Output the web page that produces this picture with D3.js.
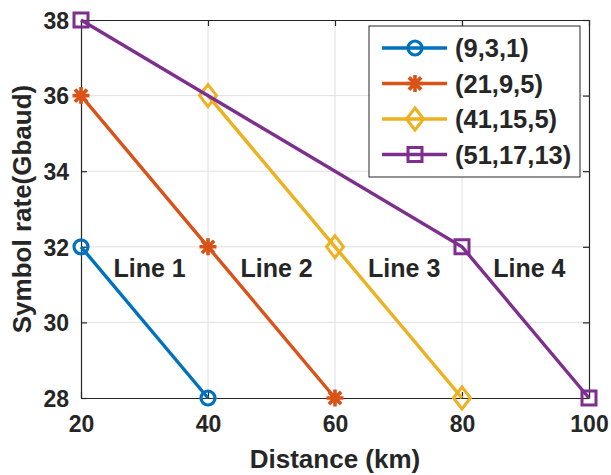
<!DOCTYPE html>
<html>
<head>
<meta charset="utf-8">
<script src="https://cdn.jsdelivr.net/npm/d3@7"></script>
<style>
  body { margin: 0; background: #fff; }
  text { font-family: "Liberation Sans", Arial, sans-serif; font-weight: bold; fill: #262626; }
</style>
</head>
<body>
<div id="chart"></div>
<script>
// data
const seriesNames = ['(9,3,1)', '(21,9,5)', '(41,15,5)', '(51,17,13)'];
const seriesColors = ['#0072BD', '#D95319', '#EDB120', '#7E2F8E'];
const seriesMarkers = ['circle', 'asterisk', 'diamond', 'square'];
const xTicks = [20, 40, 60, 80, 100];
const yTicks = [28, 30, 32, 34, 36, 38];
const line1 = [[20, 32], [40, 28]];
const line2 = [[20, 36], [40, 32], [60, 28]];
const line3 = [[40, 36], [60, 32], [80, 28]];
const line4 = [[20, 38], [80, 32], [100, 28]];
const seriesValues = [line1, line2, line3, line4];
const labelNames = ['Line 1', 'Line 2', 'Line 3', 'Line 4'];
const labelX = [30.8, 50.8, 70.9, 90.6];
const labelY = [31.45, 31.45, 31.45, 31.45];

const W = 611, H = 475;
const margin = { left: 81, right: 22, top: 20, bottom: 77 };

const svg = d3.select('#chart').append('svg')
  .attr('width', W).attr('height', H);

const x = d3.scaleLinear().domain([20, 100]).range([margin.left, W - margin.right]);
const y = d3.scaleLinear().domain([28, 38]).range([H - margin.bottom, margin.top]);

// grid
svg.append('g').selectAll('line').data(xTicks.slice(1, -1)).enter().append('line')
  .attr('x1', d => x(d)).attr('x2', d => x(d))
  .attr('y1', y.range()[0]).attr('y2', y.range()[1])
  .attr('stroke', '#e0e0e0').attr('stroke-width', 1);
svg.append('g').selectAll('line').data(yTicks.slice(1, -1)).enter().append('line')
  .attr('x1', x.range()[0]).attr('x2', x.range()[1])
  .attr('y1', d => y(d)).attr('y2', d => y(d))
  .attr('stroke', '#e0e0e0').attr('stroke-width', 1);

// axes (ticks inward, box)
function styleAxis(g) {
  g.select('.domain').attr('stroke', '#262626').attr('stroke-width', 1.2);
  g.selectAll('.tick line').attr('stroke', '#262626').attr('stroke-width', 1.2);
  g.selectAll('.tick text').style('font-size', '23px').style('font-weight', 'bold')
    .attr('fill', '#262626');
}
svg.append('g')
  .attr('transform', `translate(0, ${y(28)})`)
  .call(d3.axisBottom(x).tickValues(xTicks).tickSize(-6).tickSizeOuter(0).tickPadding(18))
  .call(styleAxis);
svg.append('g')
  .attr('transform', `translate(${x(20)}, 0)`)
  .call(d3.axisLeft(y).tickValues(yTicks).tickSize(-6).tickSizeOuter(0).tickPadding(12))
  .call(styleAxis)
  .call(g => g.selectAll('.tick text').attr('dy', '0.36em'));
svg.append('g')
  .attr('transform', `translate(0, ${y(38)})`)
  .call(d3.axisTop(x).tickValues(xTicks).tickSize(-6).tickSizeOuter(0).tickFormat(''))
  .call(styleAxis);
svg.append('g')
  .attr('transform', `translate(${x(100)}, 0)`)
  .call(d3.axisRight(y).tickValues(yTicks).tickSize(-6).tickSizeOuter(0).tickFormat(''))
  .call(styleAxis);

// axis titles
svg.append('text')
  .attr('x', (x.range()[0] + x.range()[1]) / 2).attr('y', 468)
  .attr('text-anchor', 'middle').style('font-size', '26px')
  .text('Distance (km)');
svg.append('text')
  .attr('transform', `translate(22, ${(y.range()[0] + y.range()[1]) / 2}) rotate(-90)`)
  .attr('text-anchor', 'middle').attr('dy', '0.36em').style('font-size', '26px')
  .text('Symbol rate(Gbaud)');

// markers
function markerPath(type) {
  if (type === 'asterisk') {
    const s = 8.5, d = s * 0.72;
    return `M${-s},0L${s},0M0,${-s}L0,${s}M${-d},${-d}L${d},${d}M${-d},${d}L${d},${-d}`;
  }
  if (type === 'diamond') return 'M0,-11L8.5,0L0,11L-8.5,0Z';
  return 'M-7,-7H7V7H-7Z';
}
function drawMarker(sel, type, color) {
  if (type === 'circle') {
    sel.append('circle').attr('r', 7)
      .attr('fill', 'none').attr('stroke', color).attr('stroke-width', 3.2);
  } else {
    sel.append('path').attr('d', markerPath(type))
      .attr('fill', 'none').attr('stroke', color)
      .attr('stroke-width', type === 'asterisk' ? 3.6 : 3);
  }
}

const line = d3.line().x(d => x(d[0])).y(d => y(d[1]));

seriesValues.forEach((vals, i) => {
  const g = svg.append('g');
  g.append('path').attr('d', line(vals))
    .attr('fill', 'none').attr('stroke', seriesColors[i]).attr('stroke-width', 3.4);
  g.selectAll('g.pt').data(vals).enter().append('g')
    .attr('transform', d => `translate(${x(d[0])}, ${y(d[1])})`)
    .each(function () { drawMarker(d3.select(this), seriesMarkers[i], seriesColors[i]); });
});

// annotations
svg.append('g').selectAll('text').data(labelNames).enter().append('text')
  .attr('x', (d, i) => x(labelX[i])).attr('y', (d, i) => y(labelY[i]))
  .attr('text-anchor', 'middle').attr('dy', '0.36em')
  .style('font-size', '25px').attr('fill', '#000')
  .text(d => d);

// legend
const legend = svg.append('g').attr('transform', 'translate(369, 26)');
legend.append('rect').attr('width', 211).attr('height', 151)
  .attr('fill', '#fff').attr('stroke', '#262626').attr('stroke-width', 1);
seriesNames.forEach((name, i) => {
  const row = legend.append('g').attr('transform', `translate(0, ${22 + i * 35.5})`);
  row.append('line').attr('x1', 13).attr('x2', 78)
    .attr('stroke', seriesColors[i]).attr('stroke-width', 3.4);
  drawMarker(row.append('g').attr('transform', 'translate(46, 0)'), seriesMarkers[i], seriesColors[i]);
  row.append('text').attr('x', 86).attr('dy', '0.36em')
    .style('font-size', '25.5px').attr('fill', '#000').text(name);
});
</script>
</body>
</html>
